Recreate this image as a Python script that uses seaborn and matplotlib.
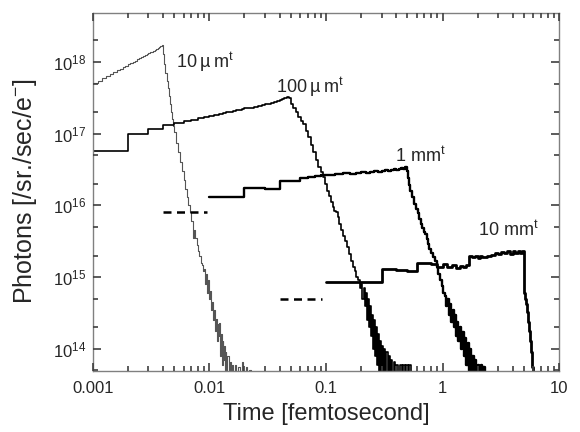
import numpy as np
import matplotlib
matplotlib.use("Agg")
import matplotlib.pyplot as plt
from matplotlib.ticker import LogLocator, NullFormatter
import pandas as pd
import seaborn as sns

# 10 um target: bin start times [fs] and photons per bin
t_10um = [0.0010, 0.0011, 0.0012, 0.0013, 0.0014, 0.0015, 0.0016, 0.0017, 0.0018, 0.0019,
          0.0020, 0.0021, 0.0022, 0.0023, 0.0024, 0.0025, 0.0026, 0.0027, 0.0028, 0.0029,
          0.0030, 0.0031, 0.0032, 0.0033, 0.0034, 0.0035, 0.0036, 0.0037, 0.0038, 0.0039,
          0.0040, 0.0041, 0.0042, 0.0043, 0.0044, 0.0045, 0.0046, 0.0047, 0.0048, 0.0049,
          0.0050, 0.0052, 0.0054, 0.0056, 0.0058, 0.0060, 0.0062, 0.0064, 0.0066, 0.0068,
          0.0070, 0.0072, 0.0073, 0.0074, 0.0076, 0.0078, 0.0080, 0.0082, 0.0084, 0.0086,
          0.0088, 0.0090, 0.0092, 0.0094, 0.0096, 0.0098, 0.0100, 0.0102, 0.0104, 0.0106,
          0.0108, 0.0110, 0.0112, 0.0114, 0.0116, 0.0118, 0.0120, 0.0122, 0.0124, 0.0126,
          0.0128, 0.0130, 0.0132, 0.0134, 0.0136, 0.0138, 0.0140, 0.0143, 0.0146, 0.0149,
          0.0152, 0.0156, 0.0160, 0.0165, 0.0170, 0.0176, 0.0182, 0.0190, 0.0196, 0.0205,
          0.0212, 0.0220, 0.0228, 0.0235]
y_10um = [5.1e17, 5.5e17, 6.0e17, 6.4e17, 6.8e17, 7.3e17, 7.7e17, 8.1e17, 8.5e17, 8.9e17,
          9.3e17, 9.7e17, 1.01e18, 1.05e18, 1.09e18, 1.13e18, 1.17e18, 1.20e18, 1.24e18, 1.28e18,
          1.32e18, 1.36e18, 1.39e18, 1.43e18, 1.47e18, 1.51e18, 1.55e18, 1.60e18, 1.66e18, 1.72e18,
          1.3e18, 9.5e17, 7.0e17, 5.5e17, 4.3e17, 3.4e17, 2.6e17, 2.0e17, 1.6e17, 1.3e17,
          1.05e17, 7.5e16, 5.5e16, 4.0e16, 3.0e16, 2.3e16, 1.7e16, 1.3e16, 1.0e16, 8.0e15,
          6.0e15, 5.0e15, 3.5e15, 4.5e15, 3.5e15, 2.8e15, 2.3e15, 2.0e15, 1.6e15, 1.5e15,
          1.2e15, 1.3e15, 8.0e14, 1.1e15, 6.0e14, 9.0e14, 5.0e14, 6.5e14, 3.5e14, 4.5e14,
          2.5e14, 3.5e14, 1.8e14, 2.6e14, 1.3e14, 2.2e14, 1.5e14, 2.3e14, 8.0e13, 1.6e14,
          6.0e13, 1.3e14, 7.0e13, 1.1e14, 3.0e13, 9.0e13, 4.0e13, 8.0e13, 3.0e13, 6.5e13,
          3.0e13, 6.0e13, 3.0e13, 6.0e13, 3.0e13, 5.5e13, 3.0e13, 6.5e13, 3.0e13, 5.5e13,
          3.0e13, 5.0e13, 3.0e13, 3.0e13]

# 100 um target
t_100um = [0.001, 0.002, 0.003, 0.004, 0.005, 0.006, 0.007, 0.008, 0.009, 0.010,
           0.011, 0.012, 0.013, 0.014, 0.015, 0.016, 0.017, 0.018, 0.019, 0.020,
           0.022, 0.024, 0.026, 0.028, 0.030, 0.032, 0.034, 0.036, 0.038, 0.040,
           0.042, 0.044, 0.046, 0.048, 0.050, 0.052, 0.055, 0.058, 0.061, 0.064,
           0.067, 0.070, 0.074, 0.078, 0.082, 0.086, 0.090, 0.094, 0.098, 0.102,
           0.106, 0.110, 0.114, 0.118, 0.122, 0.126, 0.130, 0.135, 0.140, 0.146,
           0.152, 0.158, 0.164, 0.170, 0.176, 0.182, 0.188, 0.194, 0.200, 0.205,
           0.210, 0.215, 0.220, 0.225, 0.230, 0.235, 0.240, 0.245, 0.250, 0.255,
           0.260, 0.265, 0.270, 0.275, 0.280, 0.285, 0.290, 0.296, 0.302, 0.308,
           0.315, 0.322, 0.330, 0.338, 0.346, 0.354, 0.362, 0.370, 0.380, 0.390,
           0.400, 0.415, 0.430, 0.445, 0.460, 0.475, 0.490, 0.505, 0.520, 0.535]
y_100um = [5.8e16, 1.0e17, 1.17e17, 1.32e17, 1.42e17, 1.50e17, 1.57e17, 1.64e17, 1.70e17, 1.77e17,
           1.83e17, 1.89e17, 1.94e17, 1.99e17, 2.04e17, 2.09e17, 2.13e17, 2.17e17, 2.21e17, 2.26e17,
           2.32e17, 2.38e17, 2.45e17, 2.51e17, 2.58e17, 2.64e17, 2.71e17, 2.78e17, 2.86e17, 2.94e17,
           3.03e17, 3.12e17, 3.25e17, 3.1e17, 2.6e17, 2.3e17, 2.0e17, 1.7e17, 1.5e17, 1.35e17,
           1.1e17, 9.0e16, 7.0e16, 5.5e16, 4.3e16, 3.4e16, 2.9e16, 2.5e16, 2.0e16, 1.6e16,
           1.35e16, 1.1e16, 9.5e15, 8.5e15, 8.0e15, 7.0e15, 5.5e15, 4.5e15, 3.8e15, 3.2e15,
           2.6e15, 2.1e15, 1.7e15, 1.4e15, 1.2e15, 1.0e15, 9.0e14, 7.0e14, 8.0e14, 5.0e14,
           7.0e14, 4.0e14, 6.0e14, 2.5e14, 5.0e14, 2.0e14, 4.0e14, 1.5e14, 3.0e14, 1.0e14,
           2.5e14, 8.0e13, 2.0e14, 6.0e13, 1.6e14, 4.0e13, 1.3e14, 4.0e13, 1.1e14, 3.0e13,
           1.0e14, 3.0e13, 9.0e13, 3.0e13, 8.0e13, 3.0e13, 7.0e13, 3.0e13, 6.5e13, 3.0e13,
           6.0e13, 3.0e13, 6.0e13, 3.0e13, 6.0e13, 3.0e13, 6.0e13, 3.0e13, 6.0e13, 3.0e13]

# 1 mm target
t_1mm = [0.010, 0.020, 0.030, 0.040, 0.050, 0.060, 0.070, 0.080, 0.090, 0.100,
         0.12, 0.14, 0.16, 0.18, 0.20, 0.22, 0.24, 0.26, 0.28, 0.30,
         0.32, 0.34, 0.36, 0.38, 0.40, 0.42, 0.44, 0.46, 0.48, 0.50,
         0.51, 0.52, 0.53, 0.55, 0.57, 0.59, 0.61, 0.63, 0.65, 0.67,
         0.69, 0.71, 0.73, 0.75, 0.77, 0.80, 0.83, 0.86, 0.89, 0.92,
         0.95, 0.98, 1.01, 1.04, 1.07, 1.10, 1.13, 1.16, 1.19, 1.22,
         1.25, 1.28, 1.31, 1.34, 1.37, 1.40, 1.44, 1.48, 1.52, 1.56,
         1.60, 1.64, 1.68, 1.72, 1.76, 1.80, 1.85, 1.90, 1.95, 2.00,
         2.06, 2.12, 2.18, 2.24, 2.30]
y_1mm = [1.3e16, 1.75e16, 1.72e16, 2.2e16, 2.2e16, 2.45e16, 2.5e16, 2.55e16, 2.65e16, 2.7e16,
         2.72e16, 2.8e16, 2.78e16, 2.85e16, 2.9e16, 2.88e16, 2.95e16, 3.0e16, 2.95e16, 3.05e16,
         3.1e16, 3.05e16, 3.15e16, 3.2e16, 3.15e16, 3.25e16, 3.3e16, 3.25e16, 3.45e16, 3.0e16,
         2.4e16, 1.9e16, 1.6e16, 1.3e16, 1.05e16, 9.0e15, 7.8e15, 6.5e15, 5.5e15, 4.8e15,
         4.3e15, 4.0e15, 3.4e15, 2.9e15, 2.5e15, 2.2e15, 1.9e15, 1.7e15, 1.4e15, 1.1e15,
         9.0e14, 7.5e14, 6.0e14, 5.5e14, 4.0e14, 5.0e14, 3.0e14, 4.2e14, 2.4e14, 3.5e14,
         2.0e14, 3.0e14, 1.5e14, 2.4e14, 1.3e14, 2.0e14, 1.0e14, 1.7e14, 8.0e13, 1.4e14,
         6.0e13, 1.2e14, 4.0e13, 1.0e14, 3.0e13, 8.0e13, 3.0e13, 7.0e13, 3.0e13, 6.0e13,
         3.0e13, 6.0e13, 3.0e13, 5.5e13, 3.0e13]

# 10 mm target
t_10mm = [0.1, 0.2, 0.3, 0.4, 0.5, 0.6, 0.7, 0.8, 0.9, 1.0,
          1.1, 1.2, 1.3, 1.4, 1.5, 1.6, 1.7, 1.8, 1.9, 2.0,
          2.1, 2.2, 2.4, 2.6, 2.8, 3.0, 3.2, 3.4, 3.6, 3.8,
          4.0, 4.2, 4.4, 4.6, 4.8, 5.0, 5.1, 5.2, 5.3, 5.4,
          5.5, 5.6, 5.7, 5.8, 5.9, 6.0]
y_10mm = [8.5e14, 8.5e14, 1.28e15, 1.25e15, 1.22e15, 1.6e15, 1.6e15, 1.55e15, 1.4e15, 1.55e15,
          1.4e15, 1.5e15, 1.35e15, 1.45e15, 1.4e15, 1.5e15, 2.0e15, 1.9e15, 2.0e15, 1.85e15,
          1.95e15, 1.9e15, 2.0e15, 2.05e15, 2.15e15, 2.1e15, 2.25e15, 2.15e15, 2.3e15, 2.1e15,
          2.35e15, 2.15e15, 2.3e15, 2.2e15, 2.3e15, 6.0e14, 5.0e14, 4.2e14, 3.3e14, 2.4e14,
          1.8e14, 1.3e14, 9.0e13, 7.0e13, 5.5e13, 3.0e13]

# dashed lead-in levels before the 1 mm and 10 mm curves
dash_1mm_t = [0.0040, 0.0095]
dash_1mm_y = [8.0e15, 8.0e15]
dash_10mm_t = [0.040, 0.093]
dash_10mm_y = [4.9e14, 4.9e14]

labels = ["10\u2009µ\u2009m$^{\\mathrm{t}}$", "100\u2009µ\u2009m$^{\\mathrm{t}}$",
          "1 mm$^{\\mathrm{t}}$", "10 mm$^{\\mathrm{t}}$"]
label_t = [0.0052, 0.037, 0.39, 2.0]
label_y = [1.0e18, 4.5e17, 4.9e16, 4.6e15]

sns.set_style("ticks")
plt.rcParams.update({
    'font.family': ['Liberation Sans', 'DejaVu Sans'],
    'mathtext.fontset': 'custom',
    'mathtext.rm': 'Liberation Sans',
    'mathtext.it': 'Liberation Sans:italic',
    'mathtext.bf': 'Liberation Sans:bold',
    'axes.edgecolor': '#808080',
    'axes.linewidth': 1.0,
    'xtick.labelsize': 12, 'ytick.labelsize': 12,
    'xtick.major.pad': 7, 'ytick.major.pad': 5,
})

fig = plt.figure(figsize=(5.8, 4.32), dpi=100)
ax = fig.add_axes([0.160, 0.141, 0.804, 0.830])
ax.set_xscale('log')
ax.set_yscale('log')

curves = [
    (t_10um, y_10um, '#555555', 0.8),
    (t_100um, y_100um, 'black', 1.2),
    (t_1mm, y_1mm, 'black', 1.7),
    (t_10mm, y_10mm, 'black', 2.0),
]
for t, y, col, lw in curves:
    df = pd.DataFrame({'time': t, 'photons': y})
    sns.lineplot(data=df, x='time', y='photons', ax=ax, estimator=None, sort=False,
                 drawstyle='steps-post', color=col, linewidth=lw, legend=False)

for t, y in [(dash_1mm_t, dash_1mm_y), (dash_10mm_t, dash_10mm_y)]:
    df = pd.DataFrame({'time': t, 'photons': y})
    sns.lineplot(data=df, x='time', y='photons', ax=ax, estimator=None, sort=False,
                 color='black', linewidth=1.8, linestyle=(0, (3.2, 2.2)), legend=False)

for txt, tx, ty in zip(labels, label_t, label_y):
    ax.text(tx, ty, txt, fontsize=13, ha='left', va='center')

ax.set_xlim(0.001, 10)
ax.set_ylim(4.9e13, 4.9e18)
ax.yaxis.set_major_locator(LogLocator(base=10, numticks=10))
ax.yaxis.set_minor_locator(LogLocator(base=10, subs=(2.0, 5.0), numticks=10))
ax.yaxis.set_minor_formatter(NullFormatter())
ax.xaxis.set_minor_formatter(NullFormatter())
ax.set_xticks([0.001, 0.01, 0.1, 1, 10])
ax.set_xticklabels(['0.001', '0.01', '0.1', '1', '10'])

ax.set_axisbelow(False)
ax.tick_params(which='both', direction='in', top=True, right=True, color='#404040', width=1.2)
ax.tick_params(which='major', length=6)
ax.tick_params(which='minor', length=3.5)

ax.set_xlabel('Time [femtosecond]', fontsize=17, labelpad=5)
ax.set_ylabel('Photons [/sr./sec/e$^{\\mathrm{-}}$]', fontsize=18, labelpad=10)

fig.savefig('out.png', dpi=100)
